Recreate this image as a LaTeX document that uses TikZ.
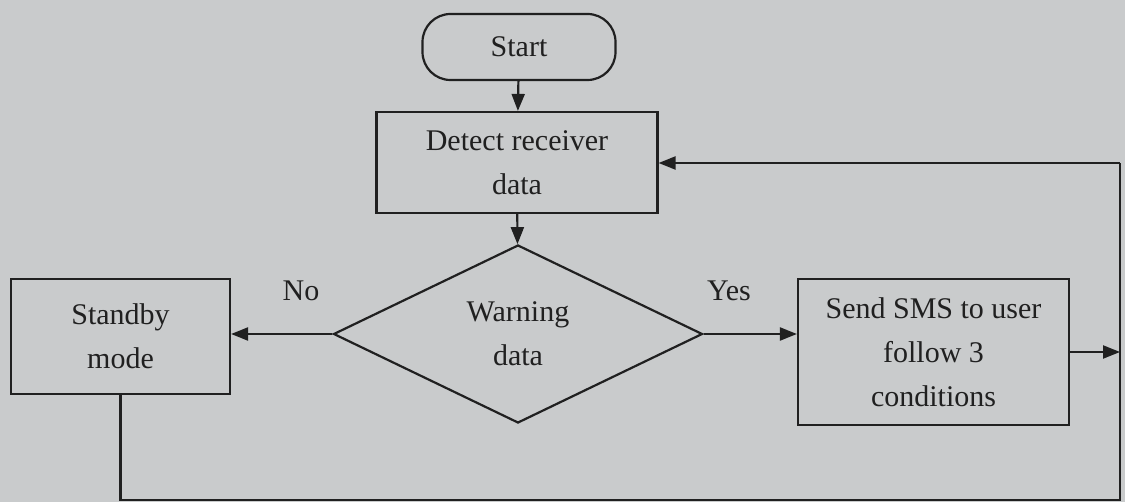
\documentclass[tikz,border=0pt]{standalone}
\usepackage{fontspec}
\setmainfont{Liberation Serif}
\usetikzlibrary{arrows.meta,shapes.geometric}
\definecolor{bg}{HTML}{C9CBCC}
\definecolor{ink}{HTML}{202020}
\begin{document}
\begin{tikzpicture}[x=1pt,y=-1pt,
  line width=2pt, draw=ink, text=ink,
  every node/.style={font=\fontsize{30}{44}\selectfont, align=center, inner sep=0pt},
  boxnode/.style={draw=ink, line width=2.2pt, rectangle},
  arr/.style={draw=ink, line width=2.2pt, -{Triangle[length=17pt,width=13pt]}},
  ln/.style={draw=ink, line width=2.2pt}]
\fill[bg] (0,0) rectangle (1125,502);
\useasboundingbox (0,0) rectangle (1125,502);
\node[boxnode, rounded corners=28pt, minimum width=193pt, minimum height=66pt] (start) at (519,47) {Start};
\node[boxnode, minimum width=281pt, minimum height=101pt] (detect) at (517,162.5) {Detect receiver\\data};
\node[boxnode, diamond, minimum width=369pt, minimum height=178pt] (dia) at (518,334) {Warning\\data};
\node[boxnode, minimum width=219pt, minimum height=115pt] (standby) at (120.5,336.5) {Standby\\mode};
\node[boxnode, minimum width=271pt, minimum height=146pt] (sms) at (933.5,352) {Send SMS to user\\follow 3\\conditions};
\node (no) at (301,291) {No};
\node (yes) at (729,291) {Yes};
\coordinate (rt) at (1120,500);
\coordinate (fb) at (1120,163);
\draw[arr] (start) -- (detect);
\draw[arr] (detect) -- (dia);
\draw[arr] (dia.west) -- (dia.west -| standby.east);
\draw[arr] (dia.east) -- (dia.east -| sms.west);
\draw[arr] (sms.east) -- (sms.east -| rt);
\draw[ln] (standby.south) |- (rt) -- (fb);
\draw[arr] (fb) -- (fb -| detect.east);
\end{tikzpicture}
\end{document}
